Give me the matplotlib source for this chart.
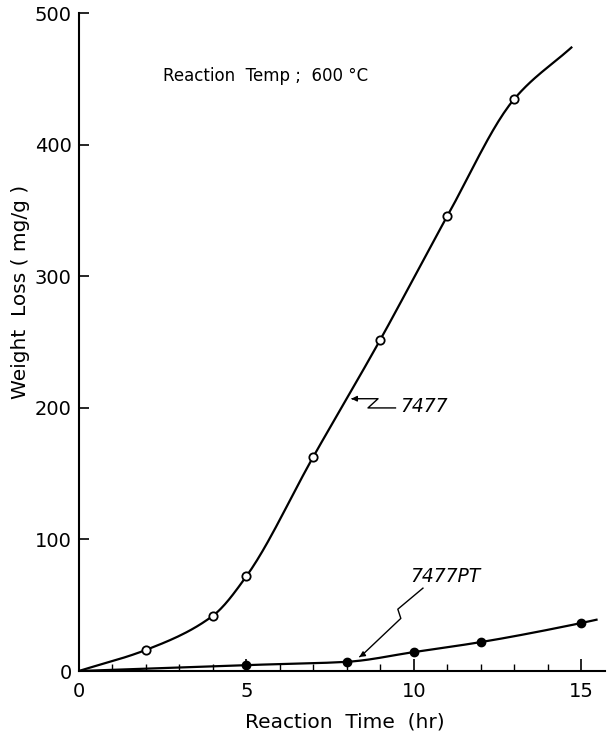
import numpy as np
import matplotlib
matplotlib.use("Agg")
import matplotlib.pyplot as plt

# Data
t_7477 = [0, 2, 4, 5, 7, 9, 11, 13, 14.7]
w_7477 = [0, 16, 42, 72, 163, 252, 346, 435, 474]
mark_7477 = [False, True, True, True, True, True, True, True, False]

t_pt = [0, 5, 8, 10, 12, 15, 15.45]
w_pt = [0, 4.5, 7, 14.4, 22, 36.5, 39]
mark_pt = [False, True, True, True, True, True, False]

xticks = [0, 5, 10, 15]
yticks = [0, 100, 200, 300, 400, 500]


def pchip(x, y, n=25):
    """Monotone cubic (Fritsch-Carlson) curve through the given points."""
    x = np.asarray(x, float); y = np.asarray(y, float)
    h = np.diff(x); delta = np.diff(y) / h
    m = np.zeros_like(y)
    for k in range(1, len(x) - 1):
        if delta[k-1] * delta[k] > 0:
            w1 = 2*h[k] + h[k-1]; w2 = h[k] + 2*h[k-1]
            m[k] = (w1 + w2) / (w1/delta[k-1] + w2/delta[k])
    m[0] = delta[0]; m[-1] = delta[-1]
    ox, oy = [], []
    for k in range(len(x) - 1):
        s = np.linspace(0, 1, n, endpoint=False)
        h00 = 2*s**3 - 3*s**2 + 1; h10 = s**3 - 2*s**2 + s
        h01 = -2*s**3 + 3*s**2; h11 = s**3 - s**2
        ox.extend(x[k] + s*h[k])
        oy.extend(h00*y[k] + h10*h[k]*m[k] + h01*y[k+1] + h11*h[k]*m[k+1])
    ox.append(x[-1]); oy.append(y[-1])
    return ox, oy


plt.rcParams['font.family'] = ['DejaVu Sans']
fig = plt.figure(figsize=(6.11, 7.39), dpi=100)
ax = fig.add_axes([0.129, 0.092, 0.861, 0.890])

sx, sy = pchip(t_7477, w_7477)
ax.plot(sx, sy, color='black', lw=1.6, zorder=2)
ax.plot([t for t, m in zip(t_7477, mark_7477) if m],
        [w for w, m in zip(w_7477, mark_7477) if m],
        'o', ms=6, mfc='white', mec='black', mew=1.3, zorder=3)

px_, py_ = pchip(t_pt, w_pt)
ax.plot(px_, py_, color='black', lw=1.6, zorder=2)
ax.plot([t for t, m in zip(t_pt, mark_pt) if m],
        [w for w, m in zip(w_pt, mark_pt) if m],
        'o', ms=6, mfc='black', mec='black', zorder=3)

ax.set_xlim(0, 15.7)
ax.set_ylim(0, 500)
ax.set_xticks(xticks)
ax.set_xticks(np.arange(0, 16, 1), minor=True)
ax.set_yticks(yticks)
ax.spines['top'].set_visible(False)
ax.spines['right'].set_visible(False)
ax.spines['left'].set_linewidth(1.5)
ax.spines['bottom'].set_linewidth(1.5)
ax.tick_params(axis='x', which='major', direction='in', length=9, width=1.2,
               labelsize=14, pad=8)
ax.tick_params(axis='x', which='minor', direction='in', length=5, width=1.0)
ax.tick_params(axis='y', which='major', direction='in', length=7, width=1.2,
               labelsize=14, pad=5)

fig.text(345/611, 1-722/739, 'Reaction  Time  (hr)', ha='center', va='center', fontsize=14.5)
fig.text(21/611, 1-292/739, 'Weight  Loss ( mg/g )', ha='center', va='center',
         rotation=90, fontsize=14.5)

ax.text(2.5, 452, 'Reaction  Temp ;  600 °C', fontsize=12, va='center', ha='left')

# 7477 label with zig-zag pointer
ax.text(9.6, 201, '7477', fontsize=13.5, va='center', ha='left', style='italic')
ax.plot([9.45, 8.63, 8.93, 8.2], [200, 200, 207, 207], color='black', lw=1.0)
ax.annotate('', xy=(8.05, 207), xytext=(8.25, 207),
            arrowprops=dict(arrowstyle='-|>', color='black', lw=1.0, mutation_scale=8))

# 7477PT label with lightning pointer
ax.text(9.9, 72, '7477PT', fontsize=13.5, va='center', ha='left', style='italic')
ax.plot([10.27, 9.52, 9.61, 8.45], [63, 47, 40, 12], color='black', lw=1.0)
ax.annotate('', xy=(8.3, 9.5), xytext=(8.45, 12),
            arrowprops=dict(arrowstyle='-|>', color='black', lw=1.0, mutation_scale=8))

fig.savefig('out.png', dpi=100)
